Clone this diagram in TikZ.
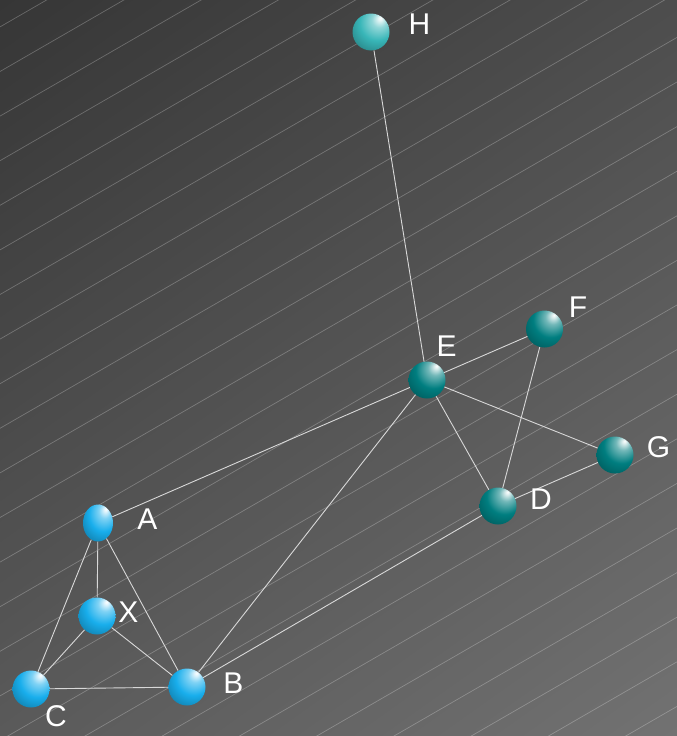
\documentclass[tikz,border=0pt]{standalone}
\usepackage{fontspec}
\setmainfont{Liberation Sans}
\usetikzlibrary{shapes.geometric,shadings}
\makeatletter
\pgfdeclareradialshading[tikz@ball]{sphereshade}{\pgfqpoint{13bp}{19bp}}{%
 color(0bp)=(white); color(3bp)=(tikz@ball!15!white); color(10bp)=(tikz@ball!55!white);
 color(24bp)=(tikz@ball); color(46bp)=(tikz@ball!62!black);
 color(72bp)=(tikz@ball!35!black)}
\makeatother
\definecolor{bblue}{HTML}{18AEEC}
\definecolor{bteal}{HTML}{007E80}
\definecolor{bcyan}{HTML}{38B6B8}
\definecolor{edgecol}{HTML}{D8D8D8}
\definecolor{bgtl}{HTML}{363636}
\definecolor{bgtr}{HTML}{4D4D4D}
\definecolor{bgbl}{HTML}{5A5A5A}
\definecolor{bgbr}{HTML}{727272}
\tikzset{
  sphere/.style={circle, inner sep=0pt, minimum size=37pt, ball color=#1, shading=sphereshade},
  lbl/.style={text=white, font=\fontsize{30}{36}\selectfont, inner sep=0pt, anchor=center},
  link/.style={draw=edgecol, line width=0.9pt},
  bgline/.style={draw=white, opacity=0.25, line width=0.7pt}
}
\begin{document}
\begin{tikzpicture}[x=1pt,y=-1pt]
\useasboundingbox (0,0) rectangle (677,736);
\shade[upper left=bgtl, upper right=bgtr, lower left=bgbl, lower right=bgbr]
  (0,0) rectangle (677,736);
\begin{scope}
\clip (0,0) rectangle (677,736);
\foreach \k in {-2,...,25}
  \draw[bgline] (0,{71.5+44.6*\k}) -- (677,{71.5+44.6*\k-390.9});
\end{scope}

% spheres
\node[sphere=bcyan] (H) at (371,32) {};
\node[sphere=bteal] (E) at (427,380) {};
\node[sphere=bteal] (F) at (544.5,329) {};
\node[sphere=bteal] (G) at (615,455) {};
\node[sphere=bteal] (D) at (498,506) {};
\node[sphere=bblue, ellipse, minimum width=30pt, minimum height=37pt] (A) at (98,523) {};
\node[sphere=bblue] (X) at (97,616) {};
\node[sphere=bblue] (C) at (31,689) {};
\node[sphere=bblue] (B) at (187,687) {};

% connectors
\draw[link] (H) -- (E);
\draw[link] (E) -- (F);
\draw[link] (E) -- (G);
\draw[link] (E) -- (D);
\draw[link] (E) -- (A);
\draw[link] (E) -- (B);
\draw[link] (F) -- (D);
\draw[link] (D) -- (G);
\draw[link] (D) -- (B);
\draw[link] (A) -- (X);
\draw[link] (A) -- (C);
\draw[link] (A) -- (B);
\draw[link] (X) -- (C);
\draw[link] (X) -- (B);
\draw[link] (C) -- (B);

% labels
\node[lbl] (lH) at (419.5,24) {H};
\node[lbl] (lE) at (446.5,346) {E};
\node[lbl] (lF) at (578,307) {F};
\node[lbl] (lG) at (658.5,447.5) {G};
\node[lbl] (lD) at (541,499.5) {D};
\node[lbl] (lA) at (147.5,519.5) {A};
\node[lbl] (lX) at (128.5,612.5) {X};
\node[lbl] (lB) at (233.5,683.5) {B};
\node[lbl] (lC) at (56,716.5) {C};
\end{tikzpicture}
\end{document}
